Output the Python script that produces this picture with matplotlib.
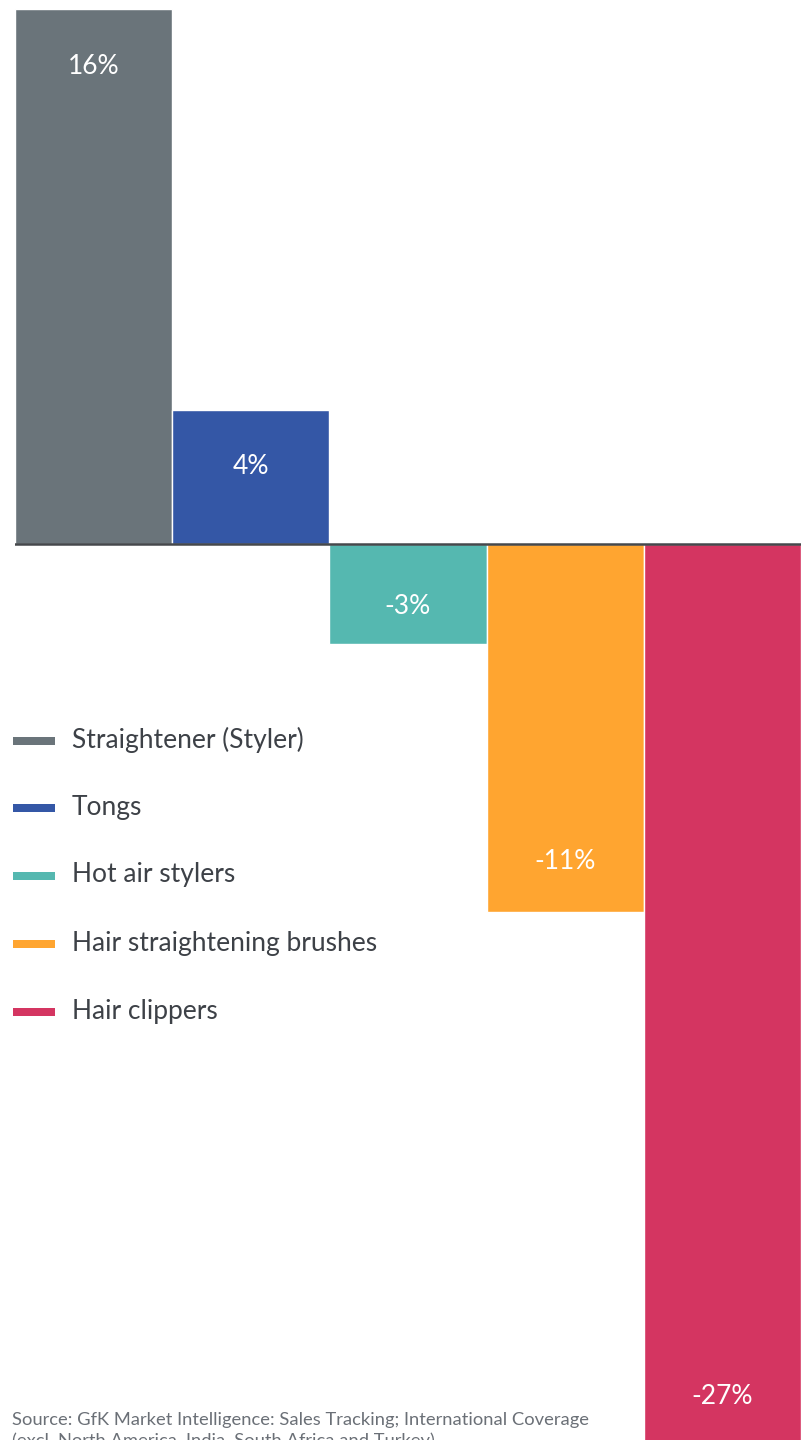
import matplotlib
matplotlib.use("Agg")
import matplotlib.pyplot as plt
from matplotlib.patches import Rectangle

categories = ["Straightener (Styler)", "Tongs", "Hot air stylers",
              "Hair straightening brushes", "Hair clippers"]
values = [16, 4, -3, -11, -27]
labels = ["16%", "4%", "-3%", "-11%", "-27%"]
colors = ["#6a747a", "#3457a6", "#55b8b0", "#ffa530", "#d43561"]
source = ("Source: GfK Market Intelligence: Sales Tracking; International Coverage\n"
          "(excl. North America, India, South Africa and Turkey)")

W, H = 803, 1440
fig = plt.figure(figsize=(W / 100, H / 100), dpi=100)
fig.patch.set_facecolor("white")

# axes: left 15px, right 801px, top 9px (=16%), bottom at figure bottom
px_per_unit = (544 - 9) / 16.0
ymin = -(H - 544) / px_per_unit
ax = fig.add_axes([15 / W, 0, (801 - 15) / W, 1 - 9 / H])
ax.set_xlim(-0.5, len(values) - 0.5)
ax.set_ylim(ymin, 16)
ax.axis("off")

x = list(range(len(values)))
ax.bar(x, values, width=1.0, color=colors, edgecolor="white", linewidth=1.0)
ax.axhline(0, color="#45484c", linewidth=1.8, zorder=5)

for xi, v, lab in zip(x, values, labels):
    h_px = abs(v) * px_per_unit
    if v > 0:
        off_px = min(57, 0.42 * h_px)
    else:
        off_px = min(50, 0.38 * h_px)
    off_pt = off_px * 72 / 100
    sign = -1 if v > 0 else 1
    ax.annotate(lab, xy=(xi, v), xytext=(0, sign * off_pt), textcoords="offset points",
                ha="center", va="center", color="white", fontsize=19,
                family=["Lato", "DejaVu Sans"], annotation_clip=False)

# legend drawn manually
ys = [741, 808, 876, 944, 1012]
for cat, col, yy in zip(categories, colors, ys):
    fig.patches.append(Rectangle((13 / W, 1 - (yy + 4) / H), 42 / W, 8 / H,
                                 transform=fig.transFigure, facecolor=col,
                                 edgecolor="none"))
    fig.text(72 / W, 1 - (yy - 1) / H, cat, ha="left", va="center",
             fontsize=19, color="#3d4147", family=["Lato", "DejaVu Sans"])

fig.text(12 / W, 1 - 1412 / H, source, ha="left", va="top", fontsize=13.2,
         color="#6b7077", family=["Lato", "DejaVu Sans"], linespacing=1.3)

fig.savefig("out.png", dpi=100, facecolor="white")
